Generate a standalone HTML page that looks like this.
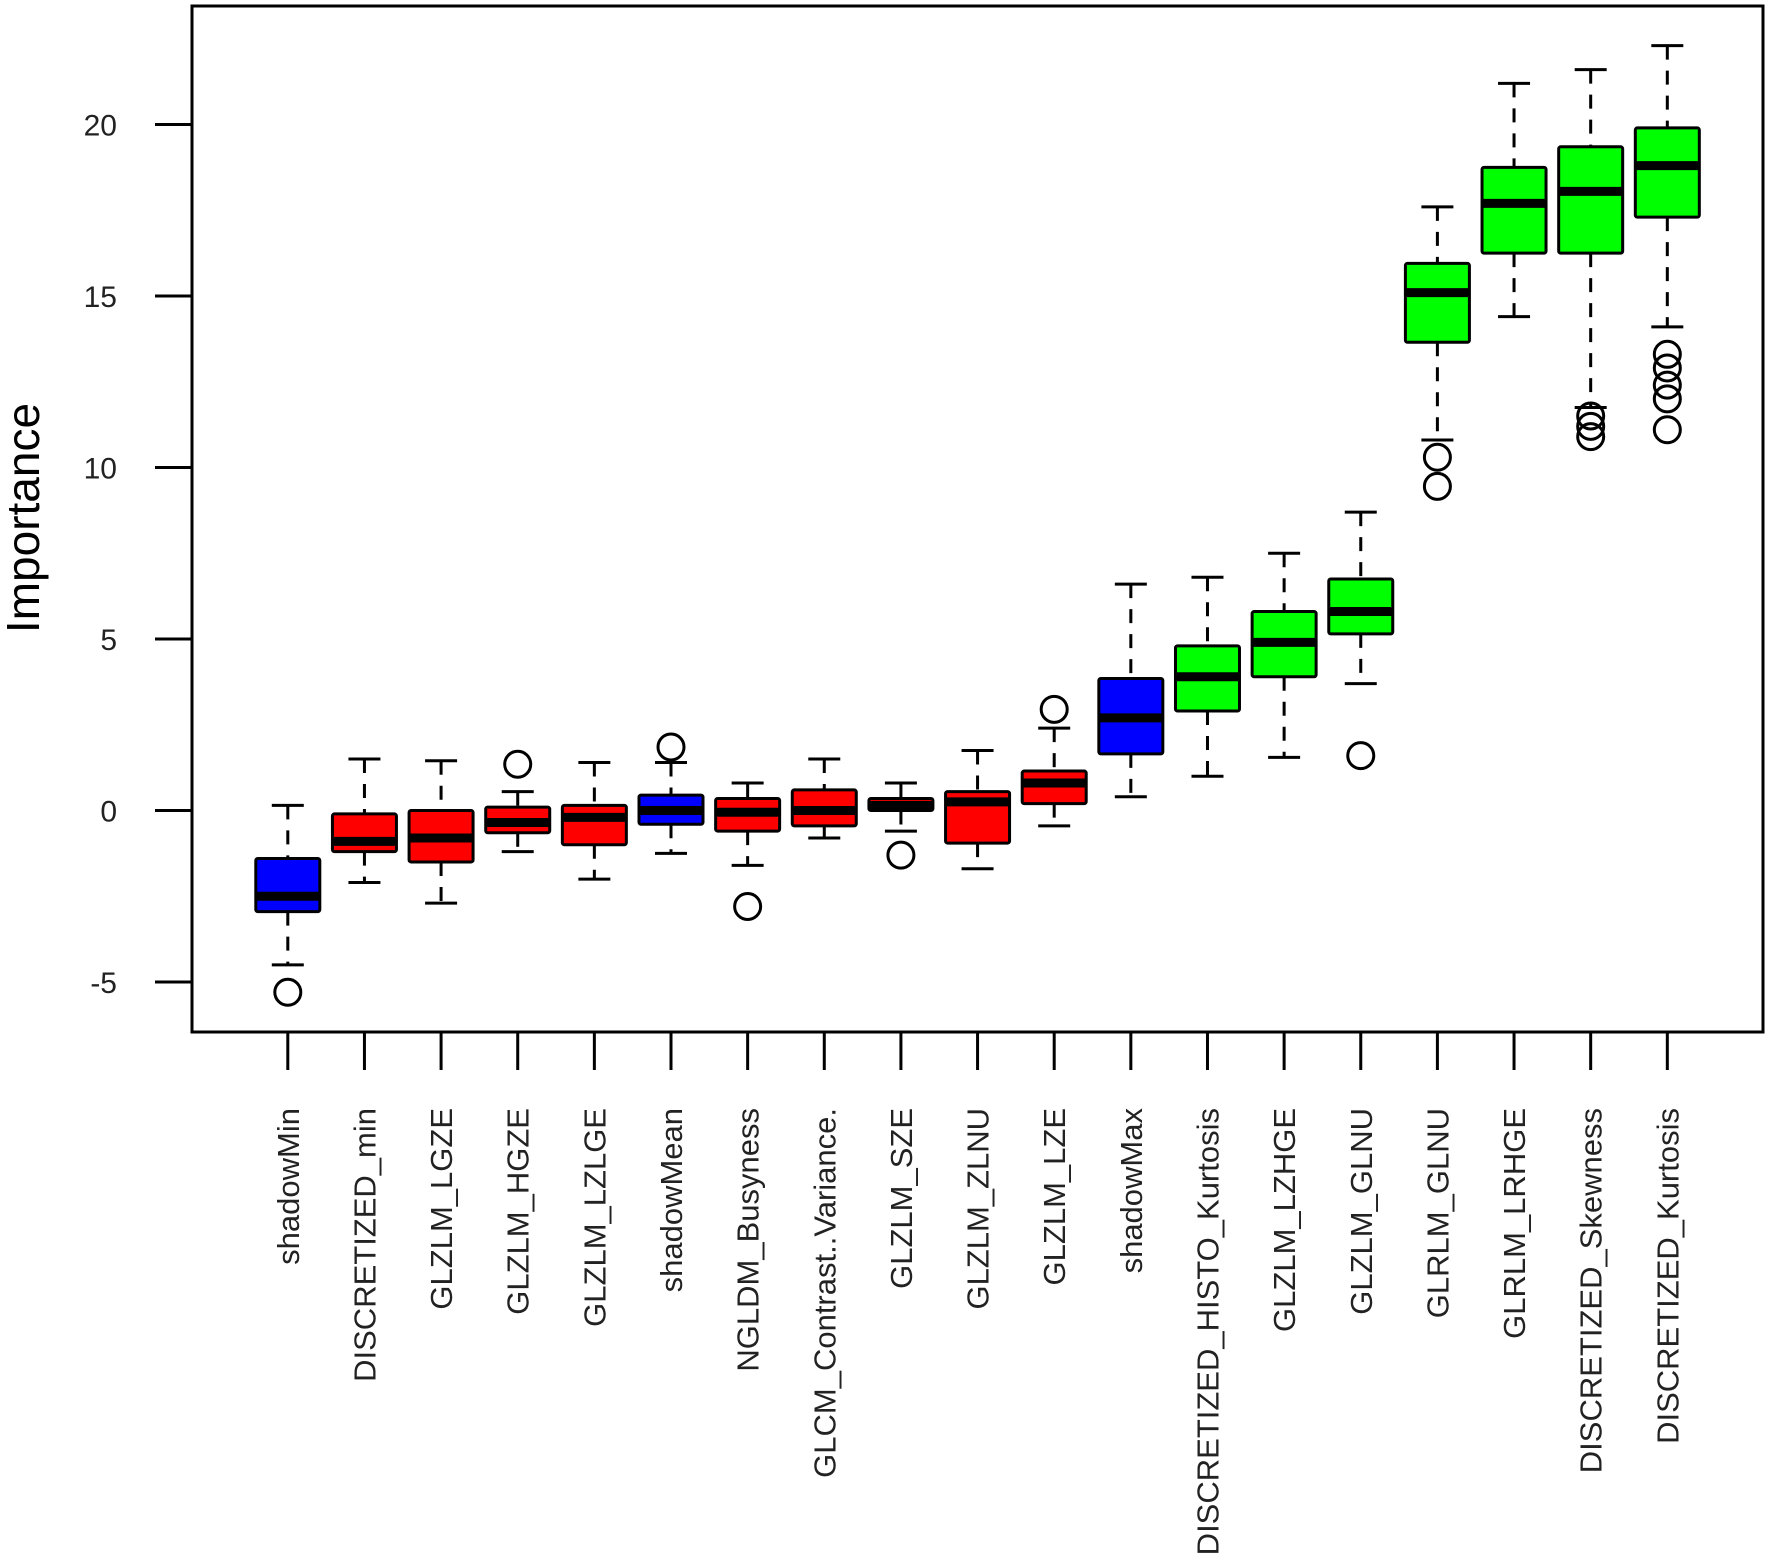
<!DOCTYPE html>
<html><head><meta charset="utf-8"><style>html,body{margin:0;padding:0;background:#fff}svg{display:block}</style></head>
<body>
<svg id="chart" width="1770" height="1564" xmlns="http://www.w3.org/2000/svg" font-family="Liberation Sans, sans-serif"></svg>
<script>
const categories=["shadowMin","DISCRETIZED_min","GLZLM_LGZE","GLZLM_HGZE","GLZLM_LZLGE","shadowMean","NGLDM_Busyness","GLCM_Contrast..Variance.","GLZLM_SZE","GLZLM_ZLNU","GLZLM_LZE","shadowMax","DISCRETIZED_HISTO_Kurtosis","GLZLM_LZHGE","GLZLM_GLNU","GLRLM_GLNU","GLRLM_LRHGE","DISCRETIZED_Skewness","DISCRETIZED_Kurtosis"];
const colors=["#0000ff","#ff0000","#ff0000","#ff0000","#ff0000","#0000ff","#ff0000","#ff0000","#ff0000","#ff0000","#ff0000","#0000ff","#00ff00","#00ff00","#00ff00","#00ff00","#00ff00","#00ff00","#00ff00"];
const whiskerLow=[-4.5,-2.1,-2.7,-1.2,-2.0,-1.25,-1.6,-0.8,-0.6,-1.7,-0.45,0.4,1.0,1.55,3.7,10.8,14.4,11.75,14.1];
const q1=[-2.95,-1.2,-1.5,-0.65,-1.0,-0.4,-0.6,-0.45,0.0,-0.95,0.2,1.65,2.9,3.9,5.15,13.65,16.25,16.25,17.3];
const medians=[-2.5,-0.9,-0.8,-0.35,-0.2,0.0,-0.05,0.0,0.15,0.25,0.8,2.7,3.9,4.9,5.8,15.1,17.7,18.05,18.8];
const q3=[-1.4,-0.1,0.0,0.1,0.15,0.45,0.35,0.6,0.35,0.55,1.15,3.85,4.8,5.8,6.75,15.95,18.75,19.35,19.9];
const whiskerHigh=[0.15,1.5,1.45,0.55,1.4,1.4,0.8,1.5,0.8,1.75,2.4,6.6,6.8,7.5,8.7,17.6,21.2,21.6,22.3];
const outliers=[[-5.3],[],[],[1.35],[],[1.85],[-2.8],[],[-1.3],[],[2.95],[],[],[],[1.6],[10.3,9.45],[],[11.5,11.2,10.9],[13.3,12.9,12.4,12.0,11.1]];
const yTicks=[-5,0,5,10,15,20];

const svg=document.getElementById('chart');
const NS="http://www.w3.org/2000/svg";
const L=192,R=1763,T=6,B=1032;
const y=v=>810.5-v*34.3;
const x=i=>287.8+i*76.64;
const BW=64;
function mk(tag,attrs,parent){const e=document.createElementNS(NS,tag);for(const k in attrs)e.setAttribute(k,attrs[k]);(parent||svg).appendChild(e);return e;}

const frame=mk('rect',{x:L,y:T,width:R-L,height:B-T,fill:'none',stroke:'#000','stroke-width':3});



const yAxis=mk('g',{});


yTicks.forEach(t=>{
  mk('line',{x1:L-37,x2:L,y1:y(t),y2:y(t),stroke:'#000','stroke-width':3},yAxis);
  const tx=mk('text',{x:117,y:y(t)+11,'text-anchor':'end','font-size':30,fill:'#222'},yAxis);
  tx.textContent=t;
  
  
});
const yt=mk('text',{x:0,y:0,'text-anchor':'middle','font-size':46,fill:'#000',transform:'translate(39,518) rotate(-90)'});
yt.textContent='Importance';



categories.forEach((c,i)=>{
  const g=mk('g',{});
  
  
  const cx=x(i);
  mk('line',{x1:cx,x2:cx,y1:y(whiskerHigh[i]),y2:y(q3[i]),stroke:'#000','stroke-width':3,'stroke-dasharray':'14,11'},g);
  mk('line',{x1:cx,x2:cx,y1:y(q1[i]),y2:y(whiskerLow[i]),stroke:'#000','stroke-width':3,'stroke-dasharray':'14,11'},g);
  mk('line',{x1:cx-16,x2:cx+16,y1:y(whiskerHigh[i]),y2:y(whiskerHigh[i]),stroke:'#000','stroke-width':3},g);
  mk('line',{x1:cx-16,x2:cx+16,y1:y(whiskerLow[i]),y2:y(whiskerLow[i]),stroke:'#000','stroke-width':3},g);
  mk('rect',{x:cx-BW/2,y:y(q3[i]),width:BW,height:y(q1[i])-y(q3[i]),fill:colors[i],stroke:'#000','stroke-width':3,rx:2},g);
  mk('line',{x1:cx-BW/2,x2:cx+BW/2,y1:y(medians[i]),y2:y(medians[i]),stroke:'#000','stroke-width':9},g);
  outliers[i].forEach(o=>{mk('circle',{cx:cx,cy:y(o),r:13,fill:'none',stroke:'#000','stroke-width':3},g);});
  mk('line',{x1:cx,x2:cx,y1:B,y2:B+38,stroke:'#000','stroke-width':3},g);
  const lb=mk('text',{x:0,y:0,'text-anchor':'end','font-size':31,fill:'#222',transform:`translate(${cx+11},1108) rotate(-90)`});
  lb.textContent=c;
  
  
});
</script>
</body></html>
